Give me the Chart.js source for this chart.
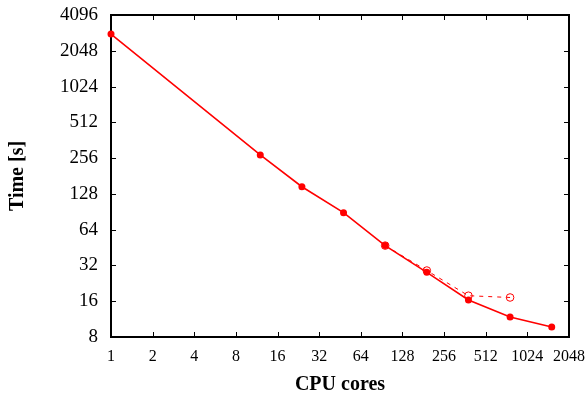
<!DOCTYPE html>
<html>
<head>
<meta charset="utf-8">
<script src="https://cdn.jsdelivr.net/npm/chart.js@4"></script>
<style>
  html, body { margin: 0; padding: 0; background: #fff; }
  #wrap { width: 588px; height: 400px; }
</style>
</head>
<body>
<div id="wrap"><canvas id="chart" width="588" height="400"></canvas></div>
<script>
// data
const cores = [1, 12, 24, 48, 96, 192, 384, 768, 1536];
const times = [2830, 272, 147, 89, 47, 28, 16.4, 11.8, 9.7];
const coresAlt = [96, 192, 384, 768];
const timesAlt = [47, 29, 17.8, 17.2];
const xTicks = [1, 2, 4, 8, 16, 32, 64, 128, 256, 512, 1024, 2048];
const yTicks = [8, 16, 32, 64, 128, 256, 512, 1024, 2048, 4096];

const serif = 'Liberation Serif, Times New Roman, serif';

// gnuplot-style frame with inward ticks on all four sides
const framePlugin = {
    id: 'frame',
    beforeDatasetsDraw(chart) {
        const { ctx, chartArea: a, scales } = chart;
        ctx.save();
        ctx.strokeStyle = '#000';
        ctx.lineWidth = 1;
        const len = 5;
        ctx.beginPath();
        scales.x.ticks.forEach(t => {
            const px = Math.round(scales.x.getPixelForValue(t.value)) + 0.5;
            ctx.moveTo(px, a.bottom); ctx.lineTo(px, a.bottom - len);
            ctx.moveTo(px, a.top); ctx.lineTo(px, a.top + len);
        });
        scales.y.ticks.forEach(t => {
            const py = Math.round(scales.y.getPixelForValue(t.value)) + 0.5;
            ctx.moveTo(a.left, py); ctx.lineTo(a.left + len, py);
            ctx.moveTo(a.right, py); ctx.lineTo(a.right - len, py);
        });
        ctx.stroke();
        ctx.lineWidth = 2;
        ctx.strokeRect(a.left, a.top, a.right - a.left, a.bottom - a.top);
        ctx.restore();
    }
};

const ctx = document.getElementById('chart').getContext('2d');
new Chart(ctx, {
    type: 'line',
    data: {
        datasets: [{
            label: 'alt',
            data: coresAlt.map((c, i) => ({ x: c, y: timesAlt[i] })),
            borderColor: '#ff0000',
            backgroundColor: '#ffffff',
            borderWidth: 1,
            borderDash: [4, 5],
            pointRadius: 3.8,
            pointBorderWidth: 1,
            pointBorderColor: '#ff0000',
            pointBackgroundColor: 'rgba(255,255,255,0)',
            tension: 0,
            clip: false,
            order: 2
        }, {
            label: 'main',
            data: cores.map((c, i) => ({ x: c, y: times[i] })),
            borderColor: '#ff0000',
            backgroundColor: '#ff0000',
            borderWidth: 1.6,
            pointRadius: 3.5,
            pointBorderWidth: 0,
            pointBackgroundColor: '#ff0000',
            tension: 0,
            clip: false,
            order: 1
        }]
    },
    options: {
        responsive: false,
        animation: false,
        layout: { padding: { left: 0, right: 19, top: 15, bottom: 0 } },
        plugins: { legend: { display: false }, tooltip: { enabled: false } },
        scales: {
            x: {
                type: 'logarithmic',
                min: 1,
                max: 2048,
                afterBuildTicks: s => { s.ticks = xTicks.map(v => ({ value: v })); },
                afterFit: s => { s.height = 63; s.paddingLeft = 0; s.paddingRight = 0; },
                grid: { drawOnChartArea: false, drawTicks: false },
                border: { display: false },
                ticks: {
                    autoSkip: false,
                    maxRotation: 0,
                    padding: 10,
                    color: '#000',
                    font: { family: serif, size: 16 },
                    callback: v => String(v)
                },
                title: {
                    display: true,
                    text: 'CPU cores',
                    color: '#000',
                    font: { family: serif, size: 20, weight: 'bold' },
                    padding: { top: 3, bottom: 3 }
                }
            },
            y: {
                type: 'logarithmic',
                min: 8,
                max: 4096,
                afterBuildTicks: s => { s.ticks = yTicks.map(v => ({ value: v })); },
                afterFit: s => { s.width = 111; s.paddingTop = 0; s.paddingBottom = 0; },
                grid: { drawOnChartArea: false, drawTicks: false },
                border: { display: false },
                ticks: {
                    autoSkip: false,
                    padding: 13,
                    color: '#000',
                    font: { family: serif, size: 19 },
                    callback: v => String(v)
                },
                title: {
                    display: true,
                    text: 'Time [s]',
                    color: '#000',
                    font: { family: serif, size: 20, weight: 'bold' },
                    padding: { top: 6, bottom: 6 }
                }
            }
        }
    },
    plugins: [framePlugin]
});
</script>
</body>
</html>
